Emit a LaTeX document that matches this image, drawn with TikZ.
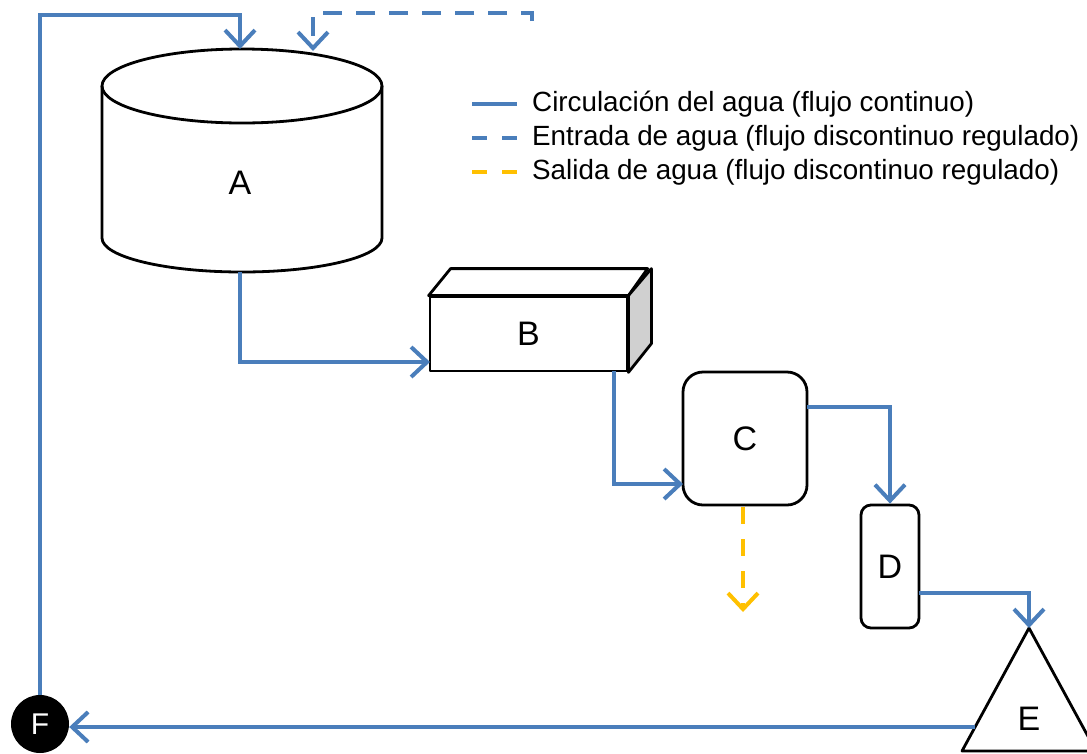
\documentclass[tikz,border=0pt]{standalone}
\usepackage{fontspec}
\setmainfont{Liberation Sans}
\usetikzlibrary{arrows.meta}
\definecolor{flow}{HTML}{4A7EBB}
\definecolor{outflow}{HTML}{FFC000}
\definecolor{face}{HTML}{D0D0D0}
\begin{document}
\begin{tikzpicture}[x=1pt,y=-1pt,
  outline/.style={draw=black,line width=2.8pt,line join=round},
  flowline/.style={draw=flow,line width=4pt},
  flowarrow/.style={flowline,-{Straight Barb[length=16pt,width=30pt]}},
  inarrow/.style={flowarrow,dash pattern=on 19pt off 14pt},
  outarrow/.style={draw=outflow,line width=4pt,dash pattern=on 17pt off 15pt,-{Straight Barb[length=16pt,width=30pt]}},
  lbl/.style={font=\fontsize{34}{40}\selectfont},
  legtext/.style={anchor=west,inner sep=0pt,font=\fontsize{27.8}{30}\selectfont},
]
\useasboundingbox (0,0) rectangle (1087,753);

% --- A: cylinder ---
\draw[outline,fill=white] (102,86) -- (102,238) arc[start angle=180,end angle=0,x radius=140,y radius=34] -- (382,86);
\draw[outline] (242,86) ellipse[x radius=140,y radius=37];
\node[lbl] (A) at (240,183) {A};
\coordinate (Atop1) at (240,49);
\coordinate (Atop2) at (313,51);
\coordinate (Abot) at (240,272);

% --- B: box ---
\node[outline,fill=white,minimum width=197pt,minimum height=74pt,inner sep=0pt,lbl] (B) at (528.5,334) {B};
\draw[outline,fill=white] (B.north west) -- ++(22,-27) -- ++(197,0) -- (B.north east) -- cycle;
\draw[outline,fill=face] (B.north east) -- ++(23,-27) -- ++(0,75) -- (B.south east) -- cycle;
\coordinate (Bin) at (430,362);
\coordinate (Bout) at (614,371);

% --- C ---
\node[outline,rounded corners=20pt,minimum width=124pt,minimum height=133pt,inner sep=0pt,lbl] (C) at (745,438.5) {C};
\coordinate (Cin) at (683,484);
\coordinate (Cout) at (807,407);

% --- D ---
\node[outline,rounded corners=10pt,minimum width=58pt,minimum height=123pt,inner sep=0pt,lbl] (D) at (890,566.5) {D};
\coordinate (Dout) at (919,593);

% --- E: triangle ---
\draw[outline] (1029,628) coordinate (Etop) -- (1096,751) -- (962,751) -- cycle;
\node[lbl] (E) at (1029,719) {E};
\coordinate (Eleft) at (974.5,727);

% --- F ---
\node[circle,fill=black,minimum size=58pt,inner sep=0pt,text=white,font=\fontsize{30}{34}\selectfont] (F) at (40,724) {F};

% --- connectors ---
\coordinate (topcorner) at (40,15);
\draw[flowarrow] (F.north) -- (topcorner) -| (Atop1);
\coordinate (inStart) at (532,21);
\draw[inarrow] (inStart) -- (532,13) -| (Atop2);
\draw[flowarrow] (Abot) |- (Bin);
\draw[flowarrow] (Bout) |- (Cin);
\draw[flowarrow] (Cout) -| (D.north);
\coordinate (Cbot) at (743,507);
\coordinate (Csink) at (743,612);
\draw[outarrow] (Cbot) -- (Csink);
\draw[flowarrow] (Dout) -| (Etop);
\draw[flowarrow] (Eleft) -- (F.east |- Eleft);

% --- legend ---
\draw[flowline] (472,104) coordinate (L1a) -- (517,104) coordinate (L1b);
\node[legtext] (T1) at (532,104) {Circulación del agua (flujo continuo)};
\draw[flowline,dash pattern=on 15pt off 15pt] (472,138) coordinate (L2a) -- (517,138) coordinate (L2b);
\node[legtext] (T2) at (532,138) {Entrada de agua (flujo discontinuo regulado)};
\draw[draw=outflow,line width=4pt,dash pattern=on 15pt off 15pt] (472,172) coordinate (L3a) -- (517,172) coordinate (L3b);
\node[legtext] (T3) at (532,172) {Salida de agua (flujo discontinuo regulado)};
\end{tikzpicture}
\end{document}
